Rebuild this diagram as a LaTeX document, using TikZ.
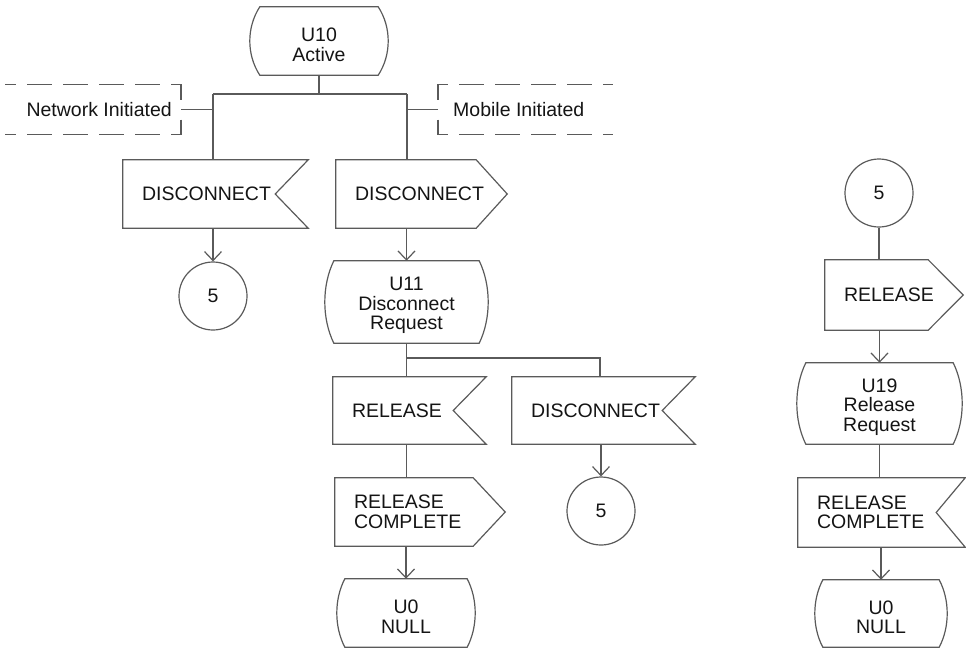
\documentclass[tikz,border=0pt]{standalone}
\usepackage{fontspec}
\setmainfont{Liberation Sans}
\usetikzlibrary{calc,arrows.meta}
\definecolor{lc}{RGB}{90,90,90}
\definecolor{tc}{RGB}{20,20,20}
\newcommand\tup{\rule{0pt}{21pt}}
\tikzset{
 ln/.style={draw=lc, line width=1.2pt, line join=miter},
 arr/.style={ln, -{Straight Barb[length=9pt,width=17pt]}},
 dsh/.style={draw=lc, line width=1.2pt, dash pattern=on 25pt off 11pt},
 lbl/.style={font=\fontsize{19.5}{19.5}\selectfont, text=tc, inner sep=0pt},
 st/.style={lbl, align=center, minimum width=#1},
 sg/.style={lbl, align=left, inner xsep=19pt, inner ysep=0pt, text width=#1},
 con/.style={lbl, circle, draw=lc, line width=1.2pt, minimum size=68pt},
}
\newcommand\drawstate[2]{\draw[ln] ($(#1.north west)+(#2,0)$) -- ($(#1.north east)+(-#2,0)$)
 .. controls ($(#1.north east)!0.3!(#1.south east)+(#2/3,0)$) and ($(#1.north east)!0.7!(#1.south east)+(#2/3,0)$) .. ($(#1.south east)+(-#2,0)$)
 -- ($(#1.south west)+(#2,0)$)
 .. controls ($(#1.north west)!0.7!(#1.south west)+(-#2/3,0)$) and ($(#1.north west)!0.3!(#1.south west)+(-#2/3,0)$) .. ($(#1.north west)+(#2,0)$) -- cycle;}
\newcommand\drawin[2]{\draw[ln] (#1.north west) -- (#1.north east) -- ($(#1.east)+(-#2,0)$) -- (#1.south east) -- (#1.south west) -- cycle;}
\newcommand\drawout[2]{\draw[ln] (#1.north west) -- ($(#1.north east)+(-#2,0)$) -- (#1.east) -- ($(#1.south east)+(-#2,0)$) -- (#1.south west) -- cycle;}
\begin{document}
\begin{tikzpicture}[x=1pt,y=-1pt]
\useasboundingbox (0,0) rectangle (966,649);
\coordinate (lm) at (5,0);
\coordinate (rm) at (613,0);
\coordinate (b1l) at (213,94);
\coordinate (b1r) at (407,94);
\coordinate (b2l) at (406.5,358);
\coordinate (b2r) at (600,358);

% states
\node[st=138pt, minimum height=68pt] (u10) at (319,41) {\tup U10\\Active};
\node[st=163pt, minimum height=82pt] (u11) at (406.5,302) {\tup U11\\Disconnect\\Request};
\node[st=138pt, minimum height=68pt] (u0a) at (406,613) {\tup U0\\NULL};
\node[st=165pt, minimum height=81pt] (u19) at (879.5,403.5) {\tup U19\\Release\\Request};
\node[st=132pt, minimum height=67pt] (u0b) at (881,613.5) {\tup U0\\NULL};
\drawstate{u10}{10}
\drawstate{u11}{9}
\drawstate{u0a}{8}
\drawstate{u19}{9}
\drawstate{u0b}{8}

% signals
\node[sg=147pt, minimum height=68pt] (dl) at (215.5,194) {DISCONNECT};
\node[sg=133pt, minimum height=68pt] (dr) at (421.5,194) {DISCONNECT};
\node[sg=115pt, minimum height=67pt] (rel) at (409.5,410.5) {RELEASE};
\node[sg=145pt, minimum height=67pt] (dm) at (603.5,410.5) {DISCONNECT};
\node[sg=132pt, minimum height=68pt] (rc) at (420,512) {RELEASE\\COMPLETE};
\node[sg=100pt, minimum height=70pt] (rel2) at (894,295) {RELEASE};
\node[sg=129pt, minimum height=69pt] (rc2) at (881.5,512.5) {RELEASE\\COMPLETE};
\drawin{dl}{33}
\drawout{dr}{31}
\drawin{rel}{33}
\drawin{dm}{33}
\drawout{rc}{32}
\drawout{rel2}{35}
\drawin{rc2}{29}

% connectors (circles)
\node[con] (c1) at (213,296) {5};
\node[con] (c2) at (601,511) {5};
\node[con] (c3) at (879,193) {5};

% dashed annotations
\node[lbl, anchor=east, inner xsep=9pt, minimum height=49pt] (net) at (181,109.5) {Network Initiated};
\node[lbl, anchor=west, inner xsep=15pt, minimum height=49pt] (mob) at (438,109.5) {Mobile Initiated};
\draw[dsh] ($(net.east)+(0,-10)$) -- (net.north east) -- (net.north east -| lm);
\draw[dsh] ($(net.east)+(0,10)$) -- (net.south east) -- (net.south east -| lm);
\draw[dsh] ($(mob.west)+(0,-10)$) -- (mob.north west) -- (mob.north west -| rm);
\draw[dsh] ($(mob.west)+(0,10)$) -- (mob.south west) -- (mob.south west -| rm);

% lines
\draw[ln] (u10.south) -- (u10.south |- b1l);
\draw[ln] (b1l) -- (b1r);
\draw[ln] (b1l) -- (b1l |- dl.north);
\draw[ln] (b1r) -- (b1r |- dr.north);
\draw[ln] (net.east) -- (net.east -| b1l);
\draw[ln] (mob.west) -- (mob.west -| b1r);
\draw[arr] (c1.north |- dl.south) -- (c1.north);
\draw[arr] (u11.north |- dr.south) -- (u11.north);
\draw[ln] (u11.south) -- (u11.south |- rel.north);
\draw[ln] (b2l) -- (b2r) -- (b2r |- dm.north);
\draw[ln] (u11.south |- rel.south) -- (u11.south |- rc.north);
\draw[arr] (u0a.north |- rc.south) -- (u0a.north);
\draw[arr] (c2.north |- dm.south) -- (c2.north);
\draw[ln] (c3.south) -- (c3.south |- rel2.north);
\draw[arr] (u19.north |- rel2.south) -- (u19.north);
\draw[ln] (u19.south) -- (u19.south |- rc2.north);
\draw[arr] (u0b.north |- rc2.south) -- (u0b.north);
\end{tikzpicture}
\end{document}
